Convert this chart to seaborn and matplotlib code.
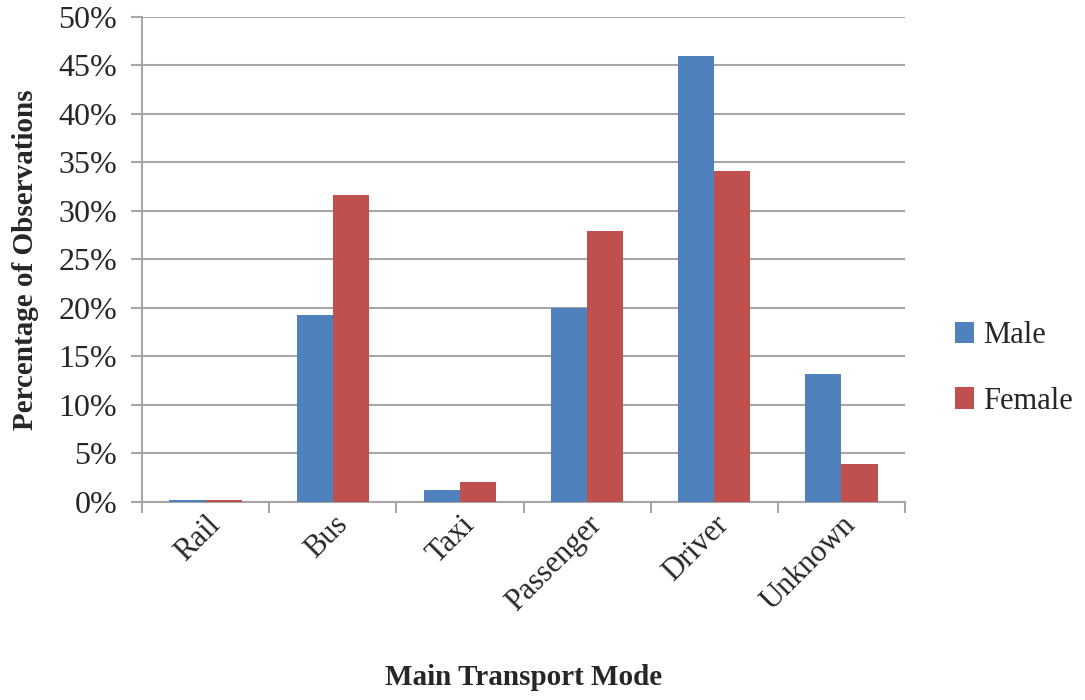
import matplotlib
matplotlib.use("Agg")
import matplotlib.pyplot as plt
import seaborn as sns
import pandas as pd
import numpy as np
from matplotlib.ticker import FuncFormatter, FixedLocator

# Datos (porcentaje de observaciones)
modos = ["Rail", "Bus", "Taxi", "Passenger", "Driver", "Unknown"]
hombres = [0.15, 19.3, 1.2, 20.0, 46.0, 13.2]
mujeres = [0.15, 31.6, 2.0, 27.9, 34.1, 3.9]
sexos = ["Male", "Female"]
colores = ["#4F81BD", "#C0504D"]

df = pd.DataFrame({
    "modo": modos * 2,
    "valor": hombres + mujeres,
    "sexo": [sexos[0]] * len(modos) + [sexos[1]] * len(modos),
})

sns.set_style("white")
plt.rcParams["font.family"] = ["Liberation Serif", "DejaVu Serif"]

fig = plt.figure(figsize=(10.85, 7), dpi=100)
ax = fig.add_axes([0.131, 0.283, 0.703, 0.693])

sns.barplot(data=df, x="modo", y="valor", hue="sexo", order=modos,
            hue_order=sexos, palette=colores, width=0.57, saturation=1,
            linewidth=0, ax=ax, zorder=3)

# Ejes y rejilla
ax.set_ylim(0, 50)
ax.set_xlim(-0.5, len(modos) - 0.5)
ax.set_yticks(range(0, 51, 5))
ax.yaxis.set_major_formatter(FuncFormatter(lambda v, p: f"{int(v)}%"))
ax.grid(axis="y", color="#A6A6A6", linewidth=1.5, zorder=0)
ax.set_axisbelow(True)
for lado in ["top", "right"]:
    ax.spines[lado].set_visible(False)
for lado in ["left", "bottom"]:
    ax.spines[lado].set_color("#A6A6A6")
    ax.spines[lado].set_linewidth(1.5)

ax.tick_params(axis="y", length=8, width=1.5, color="#A6A6A6", labelsize=23, pad=10, direction="out", left=True)
ax.set_xticks(np.arange(len(modos)))
ax.set_xticklabels(modos, rotation=45, ha="right", rotation_mode="anchor", fontsize=22)
ax.tick_params(axis="x", length=0, pad=6)
ax.xaxis.set_minor_locator(FixedLocator(np.arange(-0.5, len(modos), 1)))
ax.tick_params(axis="x", which="minor", length=8, width=1.5, color="#A6A6A6", direction="out", bottom=True)

ax.set_ylabel("Percentage of Observations", fontsize=21, fontweight="bold")
ax.yaxis.set_label_coords(-0.135, 0.5)
ax.set_xlabel("Main Transport Mode", fontsize=21, fontweight="bold")
ax.xaxis.set_label_coords(0.5, -0.335)

ax.legend(loc="center left", bbox_to_anchor=(1.03, 0.275), frameon=False,
          fontsize=22, handlelength=0.6, handleheight=0.7, handletextpad=0.3,
          labelspacing=1.2)

fig.savefig("out.png", dpi=100)
